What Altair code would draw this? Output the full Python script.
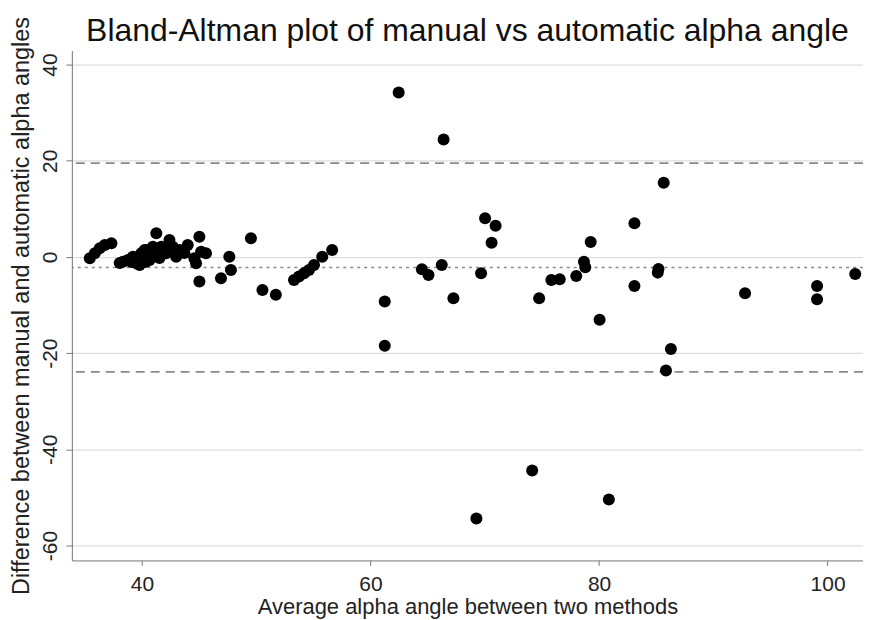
import altair as alt
import pandas as pd

# Average of two methods (x) and difference (y)
avg_angle = [
    35.44, 35.88, 36.31, 36.75, 37.33, 38.34, 38.78, 39.22, 39.51, 39.80,
    39.95, 40.24, 40.52, 40.82, 40.96, 41.26, 41.39, 41.69, 42.13, 42.41,
    42.70, 43.00, 43.29, 44.01, 44.59, 44.74, 45.03, 45.18, 45.61, 45.03,
    46.92, 47.65, 47.79, 49.54, 50.55, 51.72, 53.31, 53.75, 54.19, 54.62,
    55.06, 55.78, 56.65, 38.06, 39.10, 40.32, 40.67, 41.54, 43.72, 40.50,
    62.47, 66.40, 70.03, 70.95, 70.60, 64.50, 65.08, 66.24, 69.68, 61.25,
    67.26, 74.76, 61.25, 85.66, 83.10, 79.27, 78.68, 78.80, 78.01, 75.83,
    76.56, 83.10, 85.20, 85.14, 80.05, 86.29, 85.86, 74.15, 80.86, 69.27,
    92.78, 99.08, 99.08, 102.42,
]
diff_angle = [
    -0.27, 0.77, 1.80, 2.49, 2.84, -0.98, -0.62, 0.06, -1.31, -1.66,
    0.77, 1.45, -0.27, 0.41, 2.14, 4.92, 1.10, 2.14, 0.77, 3.53,
    2.14, 0.06, 1.45, 2.49, -0.27, -1.31, 4.21, 1.10, 0.77, -5.12,
    -4.42, 0.06, -2.70, 3.88, -6.85, -7.88, -4.77, -4.09, -3.38, -2.70,
    -1.66, 0.06, 1.45, -1.24, -1.04, -1.04, -0.62, -0.21, 0.83, 1.45,
    34.17, 24.42, 8.03, 6.49, 2.97, -2.55, -3.73, -1.66, -3.38, -9.27,
    -8.57, -8.57, -18.46, 15.41, 6.99, 3.11, -0.98, -2.14, -3.94, -4.77,
    -4.63, -6.02, -2.49, -3.26, -13.07, -19.15, -23.59, -44.40, -50.41, -54.36,
    -7.53, -6.02, -8.78, -3.53,
]

loa_values = [19.5, -23.9]   # limits of agreement
bias_value = [-2.2]          # mean difference

x_ticks = [40, 60, 80, 100]
y_ticks = [-60, -40, -20, 0, 20, 40]

FONT = "Liberation Sans"

df = pd.DataFrame({"avg": avg_angle, "diff": diff_angle})
df_loa = pd.DataFrame({"y": loa_values})
df_bias = pd.DataFrame({"y": bias_value})

x_scale = alt.Scale(domain=[33.87, 103.1], nice=False, zero=False)
y_scale = alt.Scale(domain=[-63.1, 42.9], nice=False, zero=False)

points = alt.Chart(df).mark_circle(size=145, color="black", opacity=1).encode(
    x=alt.X(
        "avg:Q",
        scale=x_scale,
        axis=alt.Axis(
            title="Average alpha angle between two methods",
            values=x_ticks,
            grid=False,
            domainColor="#777777",
            tickColor="#777777",
            tickSize=5,
            labelFontSize=21,
            labelColor="#222222",
            labelPadding=8,
            labelFont=FONT,
            labelExpr="toString(datum.value)",
            titleFont=FONT,
            titleFontSize=22,
            titleFontWeight="normal",
            titleColor="#222222",
            titleY=46,
            titleBaseline="middle",
        ),
    ),
    y=alt.Y(
        "diff:Q",
        scale=y_scale,
        axis=alt.Axis(
            title="Difference between manual and automatic alpha angles",
            values=y_ticks,
            grid=True,
            gridColor="#dddddd",
            gridWidth=1.2,
            domainColor="#777777",
            tickColor="#777777",
            tickSize=6,
            labelAngle=270,
            labelAlign="center",
            labelBaseline="bottom",
            labelFontSize=21,
            labelColor="#222222",
            labelPadding=5,
            labelFont=FONT,
            labelExpr="toString(datum.value)",
            titleFont=FONT,
            titleFontSize=23.5,
            titleFontWeight="normal",
            titleColor="#222222",
            titleX=-50,
            titleBaseline="middle",
        ),
    ),
)

loa = alt.Chart(df_loa).mark_rule(color="#8a8a8a", strokeDash=[9, 6], strokeWidth=1.6).encode(
    y=alt.Y("y:Q", scale=y_scale)
)
bias = alt.Chart(df_bias).mark_rule(color="#8a8a8a", strokeDash=[3, 4], strokeWidth=1.6).encode(
    y=alt.Y("y:Q", scale=y_scale)
)

chart = alt.layer(loa, bias, points).properties(
    width=793,
    height=511,
    title=alt.TitleParams(
        "Bland-Altman plot of manual vs automatic alpha angle",
        font=FONT,
        fontSize=32,
        fontWeight="normal",
        color="#111111",
        anchor="middle",
        frame="group",
        offset=9,
        dy=41,
    ),
    autosize=alt.AutoSizeParams(type="none"),
    padding={"left": 64, "top": 42, "right": 0, "bottom": 59},
).configure_view(stroke=None)

chart.save("out.html", embed_options={"renderer": "svg", "actions": False})
